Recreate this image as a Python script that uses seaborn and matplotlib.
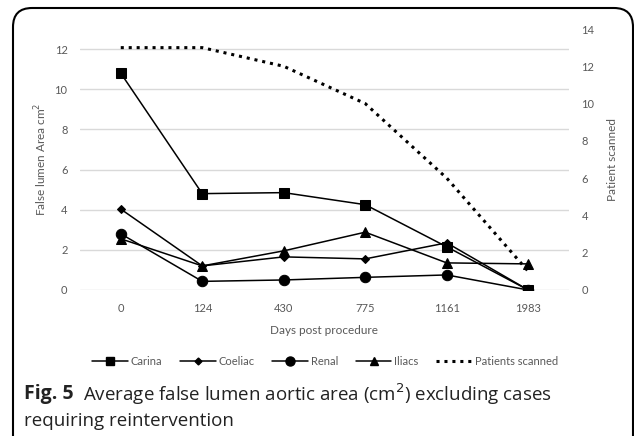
import matplotlib
matplotlib.use("Agg")
import matplotlib.pyplot as plt
import seaborn as sns
import numpy as np
import pandas as pd
from matplotlib.patches import FancyBboxPatch
from matplotlib.lines import Line2D

days = ["0", "124", "430", "775", "1161", "1983"]
carina = [10.8, 4.8, 4.85, 4.25, 2.15, 0.0]
coeliac = [4.03, 1.2, 1.65, 1.55, 2.35, 0.0]
renal = [2.8, 0.43, 0.5, 0.63, 0.75, 0.0]
iliacs = [2.55, 1.2, 1.95, 2.88, 1.35, 1.3]
patients = [13, 13, 12, 10, 6, 1]

sns.set_theme(style="white")
plt.rcParams['font.family'] = ['Lato', 'DejaVu Sans']

fig = plt.figure(figsize=(6.34, 4.36), dpi=100)
ax = fig.add_axes([80/634, 1-290/436, (569-80)/634, (290-29)/436])
ax2 = ax.twinx()

pos = np.arange(len(days))
grey = "#595959"
series = [("Carina", carina, "s", 7), ("Coeliac", coeliac, "D", 4.5),
          ("Renal", renal, "o", 7.5), ("Iliacs", iliacs, "^", 7)]
handles = []
for name, vals, mk, ms in series:
    sns.lineplot(x=pos, y=vals, ax=ax, color="black", marker=mk, markersize=ms,
                 markeredgecolor="black", linewidth=1.1, zorder=3)
    handles.append(Line2D([], [], color="black", marker=mk, markersize=ms-1, linewidth=1.1, label=name))

dot = (0, (1, 1.6))
sns.lineplot(x=pos, y=patients, ax=ax2, color="black", linestyle=dot, linewidth=2.2)
handles.append(Line2D([], [], color="black", linestyle=dot, linewidth=2.2, label="Patients scanned"))

ax.set_xlim(-0.5, len(days)-0.5)
ax.set_ylim(0, 13)
ax.set_yticks([0, 2, 4, 6, 8, 10, 12])
ax2.set_ylim(0, 14)
ax2.set_yticks([0, 2, 4, 6, 8, 10, 12, 14])
ax.set_xticks(pos)
ax.set_xticklabels(days)
for a in (ax, ax2):
    for s in a.spines.values():
        s.set_visible(False)
    a.tick_params(axis='both', length=0, labelsize=8, labelcolor=grey, pad=9)
ax.yaxis.grid(True, color="#d9d9d9", linewidth=1)
ax.set_axisbelow(True)
ax.set_xlabel("Days post procedure", fontsize=8.5, color=grey, labelpad=8)
ax.set_ylabel("False lumen Area cm$^2$", fontsize=8.5, color=grey, labelpad=4)
ax2.set_ylabel("Patient scanned", fontsize=8.5, color=grey, labelpad=9)

fig.legend(handles=handles, loc="center", bbox_to_anchor=(325/634, 1-361/436), ncol=5,
           frameon=False, fontsize=8, handlelength=3.2, columnspacing=1.6, handletextpad=0.25,
           labelcolor=grey)

cap_font = ['Open Sans', 'DejaVu Sans']
fig.text(24/634, 1-394/436, "Fig. 5", fontsize=14, va="center", ha="left", weight="bold",
         family=cap_font, color="#222222")
fig.text(83/634, 1-394/436, "Average false lumen aortic area (cm$^{2}$) excluding cases",
         fontsize=13.5, va="center", ha="left", family=cap_font, color="#222222")
fig.text(24/634, 1-421/436, "requiring reintervention",
         fontsize=13.5, va="center", ha="left", family=cap_font, color="#222222")

box = FancyBboxPatch((13/634, -0.05), (633-13)/634, 1.05 - 8/436,
                     boxstyle="round,pad=0,rounding_size=0.03", transform=fig.transFigure,
                     facecolor="none", edgecolor="black", linewidth=1.5, clip_on=False,
                     mutation_aspect=634/436)
fig.patches.append(box)

fig.savefig("out.png", dpi=100, facecolor="white")
